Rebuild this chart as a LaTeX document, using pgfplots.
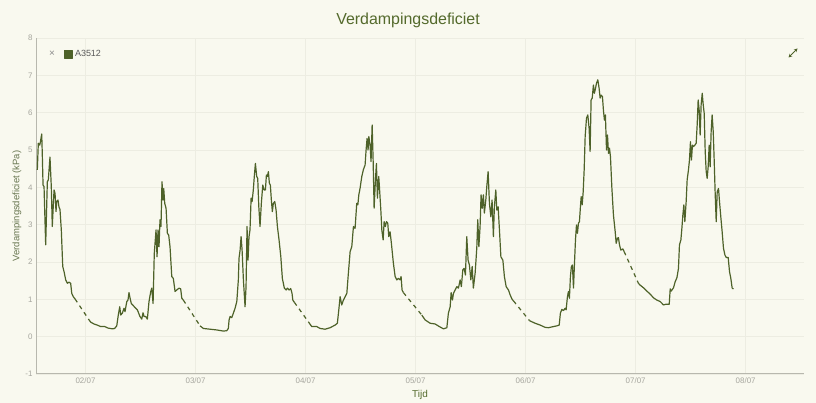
\documentclass[border=0pt]{standalone}
\usepackage{fontspec}
\setmainfont{Liberation Sans}
\usepackage{pgfplots}
\pgfplotsset{compat=1.18}
\usetikzlibrary{arrows.meta}

\definecolor{bg}{HTML}{F9F9EF}
\definecolor{vpd}{HTML}{4E6229}
\definecolor{ttl}{HTML}{546A2C}
\definecolor{gridc}{HTML}{EDEDE2}
\definecolor{axc}{HTML}{B8B8AE}
\definecolor{tickc}{HTML}{A6A69E}
\definecolor{ylab}{HTML}{687650}

% Vapour pressure deficit (kPa) per measurement; x = day of July
\pgfplotstableread{
x y
1.562 4.47
1.571 5.18
1.584 5.13
1.589 5.20
1.602 5.43
1.607 4.91
1.614 4.06
1.623 4.02
1.638 2.46
1.653 4.15
1.662 4.20
1.677 4.81
1.689 4.02
1.698 2.95
1.714 3.93
1.723 3.84
1.732 3.35
1.738 3.62
1.750 3.66
1.759 3.47
1.768 3.41
1.780 2.86
1.793 1.88
1.805 1.74
1.820 1.52
1.835 1.43
1.850 1.46
1.865 1.43
1.875 1.16
1.889 1.07
1.905 1.01
1.95 nan
2.032 0.45
2.047 0.39
2.077 0.34
2.107 0.31
2.138 0.27
2.175 0.27
2.205 0.23
2.244 0.21
2.265 0.22
2.284 0.29
2.298 0.58
2.311 0.80
2.320 0.58
2.335 0.63
2.350 0.76
2.359 0.67
2.375 0.94
2.386 0.98
2.395 1.18
2.405 1.03
2.416 0.89
2.435 0.83
2.456 0.76
2.471 0.72
2.495 0.54
2.511 0.47
2.523 0.64
2.532 0.54
2.547 0.54
2.562 0.47
2.577 0.94
2.593 1.21
2.602 1.30
2.614 0.89
2.625 2.23
2.641 2.86
2.650 2.14
2.659 2.86
2.668 2.41
2.677 3.13
2.686 2.95
2.695 4.15
2.705 3.66
2.711 3.97
2.720 3.57
2.732 3.44
2.744 2.77
2.756 2.72
2.768 2.41
2.784 1.61
2.798 1.56
2.814 1.21
2.829 1.25
2.850 1.30
2.865 1.28
2.875 1.03
2.889 0.98
2.95 nan
3.041 0.29
3.071 0.22
3.132 0.20
3.193 0.18
3.253 0.15
3.284 0.16
3.298 0.22
3.305 0.45
3.314 0.54
3.329 0.51
3.344 0.63
3.359 0.76
3.375 0.94
3.389 1.52
3.395 2.10
3.405 2.32
3.414 2.68
3.423 2.32
3.435 1.52
3.450 0.80
3.459 1.34
3.468 2.95
3.477 2.05
3.486 2.68
3.495 2.86
3.505 3.71
3.514 3.62
3.525 3.93
3.535 4.33
3.544 4.64
3.556 4.29
3.565 4.24
3.575 3.48
3.586 2.95
3.598 3.57
3.611 4.06
3.623 3.93
3.635 3.93
3.644 4.33
3.653 4.29
3.662 4.42
3.671 4.11
3.680 4.06
3.689 3.66
3.698 3.35
3.707 3.57
3.720 3.62
3.732 3.39
3.744 2.95
3.759 2.59
3.775 2.14
3.789 1.56
3.807 1.30
3.823 1.25
3.835 1.30
3.850 1.25
3.865 1.29
3.877 1.16
3.884 0.98
3.898 0.92
3.95 nan
4.025 0.40
4.056 0.27
4.102 0.27
4.132 0.22
4.177 0.20
4.223 0.24
4.268 0.31
4.289 0.36
4.302 0.72
4.314 1.07
4.329 0.85
4.344 0.98
4.375 1.16
4.389 1.70
4.405 2.28
4.420 2.41
4.435 2.95
4.450 2.90
4.465 3.57
4.475 3.53
4.484 3.80
4.495 3.97
4.511 4.29
4.525 4.47
4.541 4.60
4.550 5.00
4.559 5.31
4.568 5.00
4.575 5.36
4.586 5.13
4.595 4.69
4.605 5.67
4.614 4.73
4.623 3.44
4.635 4.20
4.644 4.64
4.653 3.71
4.665 4.29
4.671 4.02
4.684 3.39
4.693 2.86
4.705 2.59
4.714 3.08
4.725 2.95
4.735 3.08
4.747 3.04
4.756 2.68
4.768 2.81
4.780 2.50
4.798 1.97
4.814 1.61
4.829 1.52
4.844 1.56
4.859 1.52
4.868 1.61
4.877 1.25
4.889 1.18
4.95 nan
5.056 0.58
5.086 0.45
5.132 0.36
5.177 0.34
5.216 0.27
5.253 0.21
5.284 0.24
5.298 0.63
5.314 0.80
5.323 1.18
5.335 0.98
5.344 1.16
5.359 1.25
5.375 1.34
5.389 1.30
5.405 1.52
5.416 1.34
5.429 1.79
5.441 1.83
5.453 1.65
5.465 2.68
5.477 2.05
5.489 1.92
5.502 1.52
5.514 1.88
5.525 1.30
5.541 1.70
5.556 2.37
5.565 3.13
5.575 2.41
5.586 2.95
5.595 3.80
5.605 3.44
5.616 3.80
5.625 3.31
5.638 3.66
5.647 4.02
5.659 4.42
5.671 3.57
5.684 3.21
5.695 3.66
5.707 2.68
5.716 3.48
5.729 3.93
5.738 3.39
5.750 3.48
5.762 2.86
5.775 2.14
5.793 2.05
5.807 1.61
5.823 1.34
5.844 1.25
5.859 1.12
5.877 1.00
5.889 0.96
5.95 nan
6.035 0.43
6.056 0.40
6.086 0.36
6.132 0.31
6.177 0.25
6.207 0.24
6.253 0.27
6.284 0.29
6.305 0.31
6.316 0.63
6.329 0.73
6.344 0.70
6.359 0.76
6.368 0.72
6.380 1.07
6.389 1.21
6.398 1.03
6.407 1.61
6.416 1.88
6.425 1.92
6.435 1.30
6.444 1.97
6.453 2.59
6.462 2.99
6.471 2.77
6.480 3.04
6.489 3.08
6.498 3.48
6.505 3.75
6.514 3.53
6.523 3.88
6.532 4.47
6.541 5.36
6.553 5.85
6.565 5.94
6.577 5.58
6.586 4.96
6.595 6.34
6.605 6.39
6.616 6.74
6.625 6.52
6.635 6.65
6.644 6.79
6.656 6.88
6.668 6.65
6.677 6.39
6.686 6.47
6.698 6.43
6.707 6.07
6.716 5.80
6.725 5.94
6.735 5.00
6.744 5.40
6.753 4.91
6.762 5.05
6.771 4.82
6.784 3.97
6.798 3.26
6.814 2.81
6.823 2.50
6.835 2.64
6.844 2.65
6.853 2.46
6.865 2.32
6.884 2.35
6.895 2.28
6.95 nan
7.025 1.43
7.041 1.38
7.071 1.31
7.102 1.22
7.132 1.14
7.162 1.04
7.193 0.98
7.223 0.94
7.253 0.85
7.277 0.87
7.305 0.87
7.314 1.28
7.323 1.22
7.344 1.31
7.359 1.47
7.375 1.58
7.389 1.83
7.398 2.46
7.411 2.59
7.420 2.90
7.429 3.26
7.438 3.53
7.447 3.08
7.459 3.62
7.468 4.20
7.480 4.47
7.489 4.73
7.498 5.22
7.507 4.73
7.516 5.13
7.525 5.09
7.538 5.13
7.550 5.18
7.559 5.67
7.568 6.34
7.577 6.07
7.586 5.40
7.595 6.21
7.605 6.52
7.614 6.21
7.623 5.98
7.632 4.96
7.641 4.42
7.650 4.24
7.659 4.55
7.668 5.13
7.677 4.55
7.686 5.49
7.695 5.94
7.705 5.49
7.714 4.69
7.723 3.80
7.732 3.08
7.741 3.88
7.753 3.97
7.762 3.62
7.775 3.17
7.786 2.81
7.798 2.37
7.811 2.19
7.823 2.12
7.841 2.12
7.853 1.74
7.865 1.56
7.877 1.30
7.889 1.28
}\vpd

% Night-time gaps in the record, bridged by dashed lines
\pgfplotstableread{
x y
1.905 1.01
2.032 0.45
2.05 nan
2.889 0.98
3.041 0.29
3.05 nan
3.898 0.92
4.025 0.40
4.05 nan
4.889 1.18
5.056 0.58
5.07 nan
5.889 0.96
6.035 0.43
6.05 nan
6.895 2.28
7.025 1.43
}\gaps

\begin{document}
\begin{tikzpicture}
\fill[bg] (0,0) rectangle (816bp,403bp);
\useasboundingbox (0,0) rectangle (816bp,403bp);
\begin{axis}[
  at={(36bp,29bp)}, anchor=south west,
  scale only axis, width=768bp, height=336bp,
  xmin=1.55, xmax=8.53, ymin=-1, ymax=8,
  xtick={2,3,4,5,6,7,8},
  xticklabels={02/07,03/07,04/07,05/07,06/07,07/07,08/07},
  ytick={-1,0,1,2,3,4,5,6,7,8},
  grid=major,
  major grid style={draw=gridc, line width=0.8bp},
  axis x line*=bottom, axis y line*=left,
  axis line style={draw=axc, line width=1bp},
  major tick length=0pt,
  tick label style={font=\fontsize{8}{9}\selectfont, text=tickc},
  /pgf/number format/assume math mode=true,
  unbounded coords=jump,
  title={Verdampingsdeficiet},
  every axis title/.style={at={(axis description cs:0.4844,1)}, yshift=18bp,
    anchor=center, font=\fontsize{16}{18}\selectfont, text=ttl},
  xlabel={Tijd},
  every axis x label/.style={at={(axis description cs:0.5,0)}, yshift=-21bp,
    anchor=center, font=\fontsize{10}{12}\selectfont, text=ttl},
  ylabel={Verdampingsdeficiet (kPa)},
  every axis y label/.style={at={(axis description cs:0,0.5)}, xshift=-19bp,
    rotate=90, anchor=center, font=\fontsize{9.5}{11}\selectfont, text=ylab},
  legend style={at={(axis description cs:0.036,0.952)}, anchor=west,
    draw=none, fill=none, font=\fontsize{9}{10}\selectfont, text=black!65,
    inner sep=0pt},
  legend image code/.code={\fill[vpd] (0bp,-4bp) rectangle (8bp,4bp);},
]
\addplot[vpd, line width=1.2bp, line join=round] table[x=x, y=y] {\vpd};
\addlegendentry{A3512}
\addplot[vpd, line width=1.2bp, dash pattern=on 4bp off 4bp, forget plot] table[x=x, y=y] {\gaps};
\end{axis}
\node[text=black!45, font=\fontsize{10}{10}\selectfont] at (52bp,349bp) {×};
\draw[vpd, line width=1bp, {Stealth[length=3.5bp,width=3.5bp]}-{Stealth[length=3.5bp,width=3.5bp]}] (788.5bp,345.5bp) -- (797.5bp,354.5bp);
\end{tikzpicture}
\end{document}
